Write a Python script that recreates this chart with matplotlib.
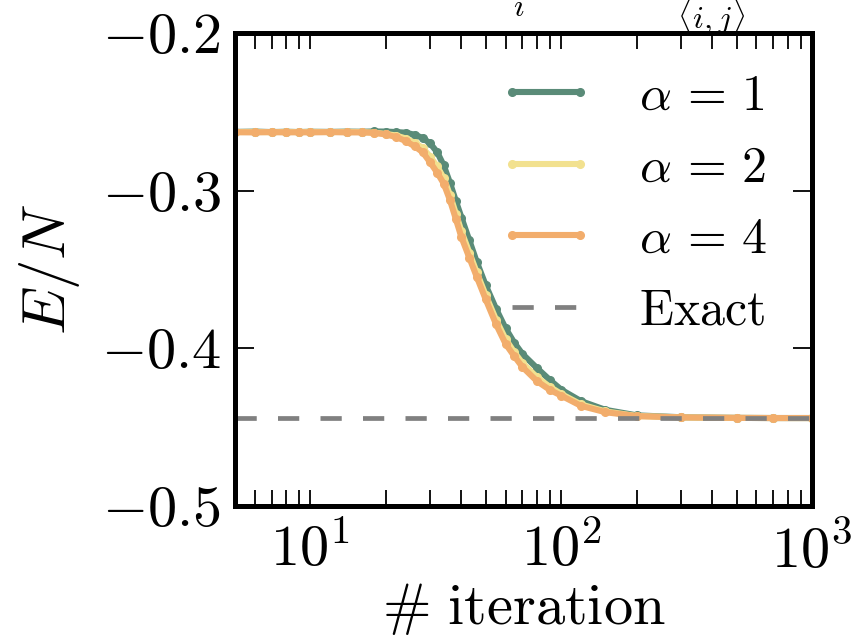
import matplotlib
matplotlib.use("Agg")
import matplotlib.pyplot as plt
from matplotlib.lines import Line2D
from matplotlib.legend_handler import HandlerLine2D

plt.rcParams["mathtext.fontset"] = "cm"
plt.rcParams["font.family"] = "serif"
plt.rcParams["font.serif"] = ["cmr10", "DejaVu Serif"]
plt.rcParams["axes.formatter.use_mathtext"] = True

# optimisation step at which each energy was recorded
iterations = [5, 6, 7, 8, 9, 10, 12, 14, 16, 18, 20, 22, 24, 26, 28, 30, 32, 34,
              36, 38, 40, 43, 46, 50, 55, 60, 65, 70, 80, 90, 100, 120, 150, 200,
              300, 500, 700, 1000]

# energy per site for the three hidden-unit densities
energy_alpha1 = [-0.2627, -0.2625, -0.2628, -0.2626, -0.2628, -0.2626, -0.2627, -0.2625,
                 -0.2626, -0.2624, -0.2625, -0.2628, -0.2632, -0.2645, -0.2665, -0.2700,
                 -0.2755, -0.2840, -0.2950, -0.3065, -0.3170, -0.3315, -0.3450, -0.3600,
                 -0.3750, -0.3873, -0.3965, -0.4035, -0.4125, -0.4200, -0.4262, -0.4335,
                 -0.4390, -0.4425, -0.4437, -0.4441, -0.4442, -0.4442]
energy_alpha2 = [-0.2628, -0.2627, -0.2629, -0.2627, -0.2628, -0.2627, -0.2628, -0.2627,
                 -0.2628, -0.2632, -0.2640, -0.2650, -0.2669, -0.2696, -0.2728, -0.2784,
                 -0.2846, -0.2920, -0.3027, -0.3145, -0.3258, -0.3392, -0.3517, -0.3663,
                 -0.3819, -0.3942, -0.4025, -0.4093, -0.4183, -0.4244, -0.4289, -0.4356,
                 -0.4400, -0.4429, -0.4438, -0.4441, -0.4442, -0.4442]
energy_alpha4 = [-0.2629, -0.2630, -0.2628, -0.2630, -0.2629, -0.2630, -0.2628, -0.2630,
                 -0.2630, -0.2633, -0.2643, -0.2660, -0.2685, -0.2718, -0.2755, -0.2820,
                 -0.2885, -0.2955, -0.3060, -0.3180, -0.3295, -0.3425, -0.3545, -0.3690,
                 -0.3848, -0.3972, -0.4050, -0.4118, -0.4208, -0.4263, -0.4300, -0.4365,
                 -0.4405, -0.4430, -0.4438, -0.4441, -0.4442, -0.4442]
exact_energy = -0.4443

series_labels = [r"$\alpha\,=\,1$", r"$\alpha\,=\,2$", r"$\alpha\,=\,4$"]
series_colors = ["#5a8b78", "#f2e18f", "#f2ad6c"]

yticks = [-0.5, -0.4, -0.3, -0.2]
ytick_labels = [r"$-0.5$", r"$-0.4$", r"$-0.3$", r"$-0.2$"]
xticks = [10, 100, 1000]
xtick_labels = [r"$10^{1}$", r"$10^{2}$", r"$10^{3}$"]

fig = plt.figure(figsize=(8.62, 6.36), dpi=100)
ax = fig.add_axes([0.2726, 0.2044, 0.6694, 0.7436])

for energies, label, color in zip([energy_alpha1, energy_alpha2, energy_alpha4],
                                  series_labels, series_colors):
    ax.plot(iterations, energies, color=color, lw=4.4, marker="o", ms=5.5,
            mec=color, mfc=color, label=label, solid_capstyle="round")

ax.axhline(exact_energy, color="#808080", lw=3.4, ls=(0, (4.5, 4.5)),
           label=r"$\mathrm{Exact}$")

ax.set_xscale("log")
ax.set_xlim(5, 1000)
ax.set_ylim(-0.5, -0.2)
ax.set_xticks(xticks)
ax.set_xticklabels(xtick_labels)
ax.set_yticks(yticks)
ax.set_yticklabels(ytick_labels)

for side in ax.spines.values():
    side.set_linewidth(3.6)

ax.tick_params(axis="both", which="both", direction="in", top=True, right=True,
               labelsize=42, width=1.3)
ax.tick_params(axis="y", which="major", length=14, pad=10)
ax.tick_params(axis="x", which="both", length=11.5, pad=12)
ax.tick_params(axis="y", which="minor", left=False, right=False)

ax.set_xlabel(r"$\#\ \mathrm{iteration}$", fontsize=42, labelpad=2)
ax.set_ylabel(r"$E/N$", fontsize=44, labelpad=14)

ax.legend(loc="upper right", bbox_to_anchor=(1.009, 1.019), frameon=False,
          fontsize=36, numpoints=2, handlelength=1.35, handletextpad=1.18,
          labelspacing=0.51, borderaxespad=0.6,
          handler_map={Line2D: HandlerLine2D(marker_pad=0)})

# Hamiltonian written above the panel
fig.text(0.6822, 1.0465,
         r"$H=-h\sum_{i}\sigma^x_i-J\sum_{\langle i,j\rangle}\sigma^z_i\sigma^z_j$",
         fontsize=33, ha="center", va="baseline")

fig.savefig("out.png", dpi=100)
